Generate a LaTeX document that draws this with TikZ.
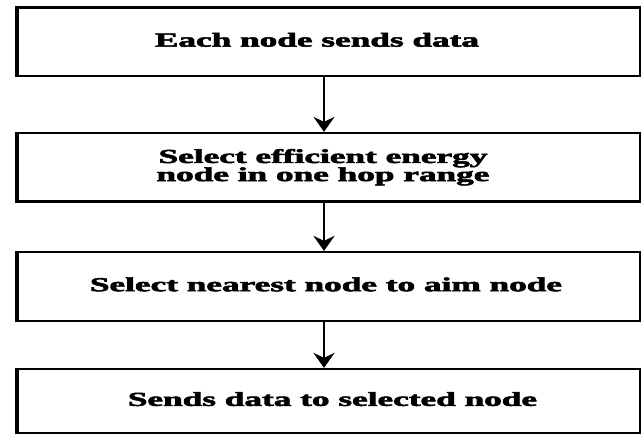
\documentclass[tikz,border=0pt]{standalone}
\usepackage{fontspec}
\usepackage{graphicx}
\setmainfont{Liberation Serif}[BoldFeatures={FakeBold=2.4}]
\usetikzlibrary{arrows.meta}

% wide bold label, stretched horizontally
\newcommand{\widelabel}[1]{%
  \scalebox{1.78}[1]{\renewcommand{\arraystretch}{0.56}%
    \begin{tabular}{@{}c@{}}#1\end{tabular}}}

\begin{document}
\begin{tikzpicture}[x=1pt,y=-1pt,
  stepbox/.style={draw=black, line width=2.2pt, fill=white,
    minimum width=624pt, inner sep=0pt, anchor=center,
    font=\fontsize{19.8}{23.8}\selectfont\bfseries},
  leftedge/.style={line width=4pt, line cap=butt},
  flow/.style={draw=black, line width=2.6pt,
    -{Stealth[length=15pt,width=21pt,inset=5pt]}}]
  \useasboundingbox (0,0) rectangle (642,436);
  \fill[white] (0,0) rectangle (642,436);

  \node[stepbox, minimum height=68.5pt] (s1) at (328,41.75)
    {\hspace*{-22pt}\widelabel{Each node sends data}};
  \node[stepbox, minimum height=68.5pt] (s2) at (328,167.25)
    {\hspace*{-10pt}\widelabel{Select efficient energy\\node in one hop range}};
  \node[stepbox, minimum height=69pt] (s3) at (328,286.5)
    {\hspace*{-4pt}\raisebox{4pt}{\widelabel{Select nearest node to aim node}}};
  \node[stepbox, minimum height=64pt] (s4) at (328,401)
    {\hspace*{9pt}\widelabel{Sends data to selected node}};

  % heavier left border of each box
  \foreach \b in {s1,s2,s3,s4}
    \draw[leftedge] ([xshift=2.1pt,yshift=-1.1pt]\b.north west)
      -- ([xshift=2.1pt,yshift=1.1pt]\b.south west);

  \draw[flow] (s1.south -| 324,0) -- (s2.north -| 324,0);
  \draw[flow] (s2.south -| 324,0) -- (s3.north -| 324,0);
  \draw[flow] (s3.south -| 324,0) -- (s4.north -| 324,0);
\end{tikzpicture}
\end{document}
